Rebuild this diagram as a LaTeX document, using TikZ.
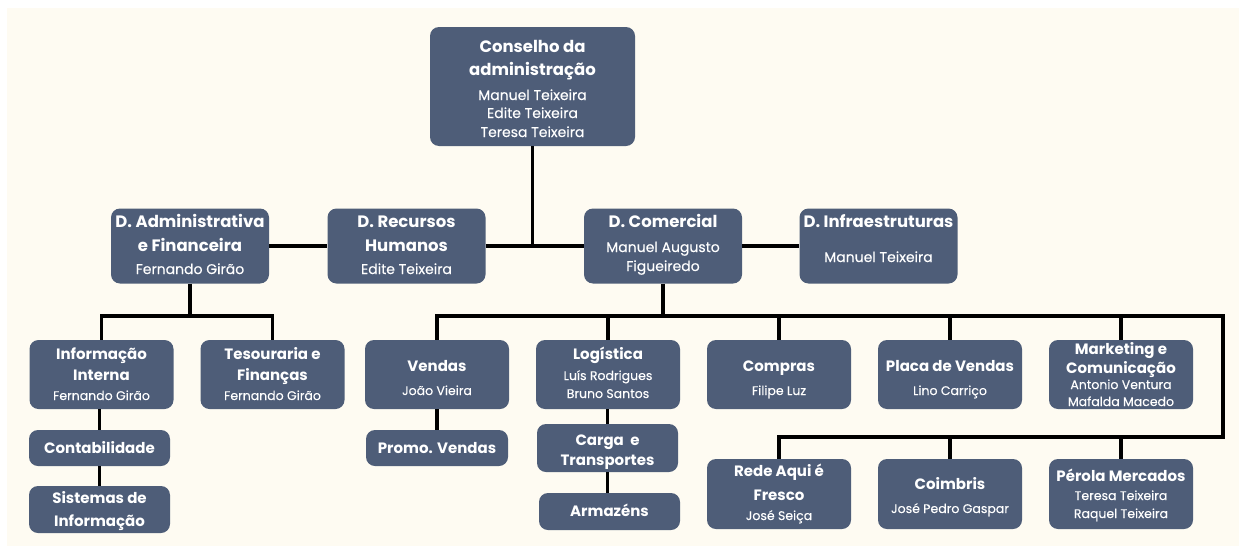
\documentclass[tikz,border=0pt]{standalone}
\usepackage{fontspec}
\setmainfont{Poppins}
\newfontfamily\namefont{Poppins}[FakeBold=0.2]
\definecolor{boxc}{HTML}{4E5D78}
\definecolor{bgc}{HTML}{FEFBF2}
% big titles / names (upper levels)
\newcommand\TT[1]{{\bfseries\fontsize{16.5}{19}\selectfont #1}}
\newcommand\NN[1]{{\namefont\fontsize{14}{19}\selectfont #1}}
% small titles / names (lower levels)
\newcommand\T[1]{{\bfseries\fontsize{15}{19}\selectfont #1}}
\newcommand\Nm[1]{{\namefont\fontsize{12.5}{19}\selectfont #1}}
% struts: top and bottom
\newcommand\TS[1]{\rule{0pt}{#1pt}}
\newcommand\BS[1]{\rule[-#1pt]{0pt}{#1pt}}
\begin{document}
\begin{tikzpicture}[x=1pt,y=-1pt,
  box/.style={fill=boxc, rounded corners=9pt, text=white, align=center, inner sep=0pt,
    font=\fontsize{13}{19}\selectfont},
  wA/.style={minimum width=158pt, minimum height=75pt},
  wB/.style={minimum width=144pt, minimum height=69pt},
  wC/.style={minimum width=144pt, minimum height=70pt},
  conn/.style={line width=3.5pt, line join=miter}]
\useasboundingbox (0,0) rectangle (1239,546);
\fill[bgc] (7,8) rectangle (1239,546);

% top
\node[box, minimum width=205pt, minimum height=119pt] (cons) at (532.5,86.5)
  {\TS{24}\TT{Conselho da}\\[4pt]\TT{administração}\\[6pt]\NN{Manuel Teixeira}\\[-1pt]\NN{Edite Teixeira}\\\NN{Teresa Teixeira}\BS{8}};
% directors
\node[box, wA] (dadm) at (190,246) {\TS{18.5}\TT{D. Administrativa}\\[5pt]\TT{e Financeira}\\[4pt]\NN{Fernando Girão}\BS{9.5}};
\node[box, wA] (drh) at (406.5,246) {\TS{18.5}\TT{D. Recursos}\\[5pt]\TT{Humanos}\\[4pt]\NN{Edite Teixeira}\BS{9.5}};
\node[box, wA] (dcom) at (663,246) {\TS{16}\TT{D. Comercial}\\[6pt]\NN{Manuel Augusto}\\\NN{Figueiredo}\BS{10}};
\node[box, wA] (dinf) at (878.5,246) {\TS{17}\TT{D. Infraestruturas}\\[16pt]\NN{Manuel Teixeira}\BS{20}};
% row 3
\node[box, wB] (info) at (101.5,374.5) {\TS{19}\T{Informação}\\[2pt]\T{Interna}\\[1pt]\Nm{Fernando Girão}\BS{9}};
\node[box, wB] (teso) at (272.5,374.5) {\TS{19}\T{Tesouraria e}\\[2pt]\T{Finanças}\\[1pt]\Nm{Fernando Girão}\BS{9}};
\node[box, wB] (vendas) at (437,374.5) {\TS{27}\T{Vendas}\\[5pt]\Nm{João Vieira}\BS{10}};
\node[box, wB] (logis) at (608,374.5) {\TS{18}\T{Logística}\\[2pt]\Nm{Luís Rodrigues}\\[-1pt]\Nm{Bruno Santos}\BS{10}};
\node[box, wB] (compras) at (779,374.5) {\TS{27}\T{Compras}\\[5pt]\Nm{Filipe Luz}\BS{10}};
\node[box, wB] (placa) at (950,374.5) {\TS{27}\T{Placa de Vendas}\\[5pt]\Nm{Lino Carriço}\BS{10}};
\node[box, wB] (mkt) at (1121,374.5) {\TS{14}\T{Marketing e}\\[0pt]\T{Comunicação}\\[-3pt]\Nm{Antonio Ventura}\\[-2pt]\Nm{Mafalda Macedo}\BS{3}};
% sub rows
\node[box, minimum width=141pt, minimum height=36pt] (contab) at (99.5,448) {\TS{20}\T{Contabilidade}\BS{10}};
\node[box, minimum width=141pt, minimum height=47pt] (sist) at (99.5,509.5) {\TS{17}\T{Sistemas de}\\[4pt]\T{Informação}\BS{7}};
\node[box, minimum width=142pt, minimum height=36pt] (promo) at (437,448) {\TS{20}\T{Promo. Vendas}\BS{10}};
\node[box, minimum width=141pt, minimum height=48pt] (carga) at (607.5,448) {\TS{21}\T{Carga\ \ e}\\[1pt]\T{Transportes}\BS{7}};
\node[box, minimum width=141pt, minimum height=37pt] (arm) at (609.5,511.5) {\TS{19}\T{Armazéns}\BS{10}};
% row 5
\node[box, wC] (rede) at (779,494) {\TS{17}\T{Rede Aqui é}\\[5pt]\T{Fresco}\\[1pt]\Nm{José Seiça}\BS{9}};
\node[box, wC] (coim) at (950,494) {\TS{24}\T{Coimbris}\\[5pt]\Nm{José Pedro Gaspar}\BS{10}};
\node[box, wC] (perola) at (1121,494) {\TS{21}\T{Pérola Mercados}\\[0pt]\Nm{Teresa Teixeira}\\[-1pt]\Nm{Raquel Teixeira}\BS{10}};

% connectors
\draw[conn] (cons.south) -- (cons.south |- drh.east);
\draw[conn] (dadm.east) -- (drh.west);
\draw[conn] (drh.east) -- (dcom.west);
\draw[conn] (dcom.east) -- (dinf.west);
\coordinate (ja) at (190,316);
\draw[conn] (dadm.south) -- (ja);
\draw[conn] (info.north) -- (info.north |- ja) -- (teso.north |- ja) -- (teso.north);
\draw[conn] (contab.north |- info.south) -- (contab.north);
\draw[conn] (contab.south) -- (sist.north);
\coordinate (jc) at (663,316);
\coordinate (br) at (1223,316);
\coordinate (br2) at (1223,437);
\draw[conn] (dcom.south) -- (jc);
\draw[conn] (vendas.north) -- (vendas.north |- jc) -- (br) -- (br2) -- (rede.north |- br2) -- (rede.north);
\foreach \n in {logis,compras,placa,mkt} \draw[conn] (\n.north) -- (\n.north |- jc);
\foreach \n in {coim,perola} \draw[conn] (\n.north) -- (\n.north |- br2);
\draw[conn] (vendas.south) -- (promo.north);
\draw[conn] (carga.north |- logis.south) -- (carga.north);
\draw[conn] (carga.south) -- (carga.south |- arm.north);
\end{tikzpicture}
\end{document}
